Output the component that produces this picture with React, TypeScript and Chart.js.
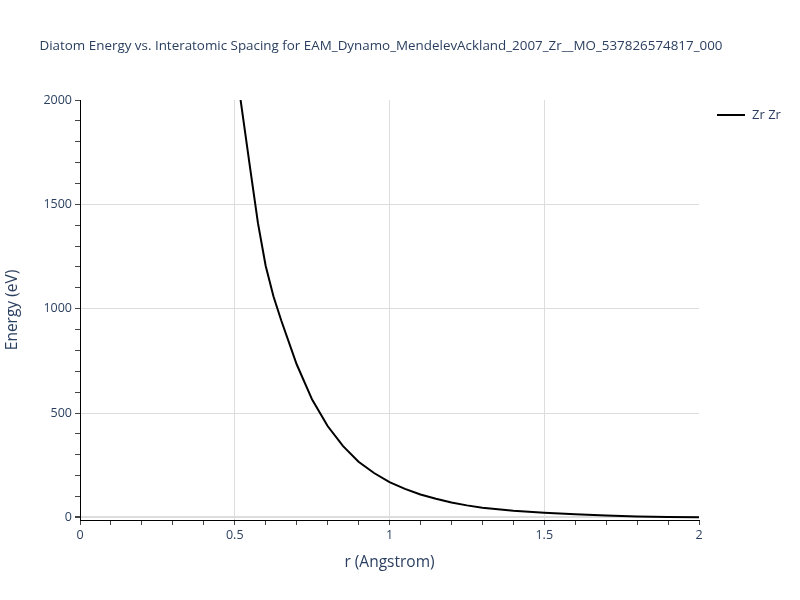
import React, { useEffect, useRef } from "react";
import { Chart, registerables } from "chart.js";

Chart.register(...registerables);

const TITLE = "Diatom Energy vs. Interatomic Spacing for EAM_Dynamo_MendelevAckland_2007_Zr__MO_537826574817_000";
const SERIES_NAME = "Zr Zr";
const X_TITLE = "r (Angstrom)";
const Y_TITLE = "Energy (eV)";

const rValues = [0.5, 0.55, 0.575, 0.6, 0.625, 0.65, 0.7, 0.75, 0.8, 0.85, 0.9, 0.95, 1.0, 1.05, 1.1, 1.15, 1.2, 1.25, 1.3, 1.4, 1.5, 1.6, 1.7, 1.8, 1.9, 2.0];
const energyValues = [2200, 1670, 1410, 1205, 1060, 945, 734, 565, 438, 342, 267, 213, 169, 137, 110, 90, 72, 58, 47, 32, 23, 15, 9, 5, 2.5, 1];

const xTickValues = [0, 0.1, 0.2, 0.3, 0.4, 0.5, 0.6, 0.7, 0.8, 0.9, 1, 1.1, 1.2, 1.3, 1.4, 1.5, 1.6, 1.7, 1.8, 1.9, 2];
const xLabelValues = [0, 0.5, 1, 1.5, 2];
const yTickValues = [0, 100, 200, 300, 400, 500, 600, 700, 800, 900, 1000, 1100, 1200, 1300, 1400, 1500, 1600, 1700, 1800, 1900, 2000];
const yLabelValues = [0, 500, 1000, 1500, 2000];

const TEXT = "#2a3f5f";
const GRID = "#dddddd";
const FONT = "'Open Sans', 'Liberation Sans', sans-serif";

const isLabel = (list: number[], v: number) => list.some((l) => Math.abs(l - v) < 1e-6);

const overlay = {
  id: "overlay",
  afterDraw(chart: any) {
    const ctx = chart.ctx;
    ctx.save();
    ctx.fillStyle = TEXT;
    ctx.font = `13.4px ${FONT}`;
    ctx.textBaseline = "middle";
    ctx.textAlign = "center";
    ctx.fillText(TITLE, 381, 46);
    // legend
    ctx.strokeStyle = "#000";
    ctx.lineWidth = 2;
    ctx.beginPath();
    ctx.moveTo(717, 115);
    ctx.lineTo(745, 115);
    ctx.stroke();
    ctx.font = `13px ${FONT}`;
    ctx.textAlign = "left";
    ctx.fillText(SERIES_NAME, 752, 115);
    ctx.restore();
  },
};

export default function App() {
  const ref = useRef<HTMLCanvasElement | null>(null);
  useEffect(() => {
    if (!ref.current) return;
    const chart = new Chart(ref.current, {
      type: "line",
      data: {
        datasets: [
          {
            label: SERIES_NAME,
            data: rValues.map((r, i) => ({ x: r, y: energyValues[i] })),
            borderColor: "#000",
            borderWidth: 2,
            pointRadius: 0,
            tension: 0,
            fill: false,
          },
        ],
      },
      options: {
        animation: false,
        responsive: false,
        maintainAspectRatio: false,
        layout: { padding: { left: 0, top: 100, right: 101, bottom: 0 } },
        plugins: { legend: { display: false }, title: { display: false }, tooltip: { enabled: false } },
        scales: {
          x: {
            type: "linear",
            min: 0,
            max: 2,
            afterBuildTicks: (s: any) => {
              s.ticks = xTickValues.map((v) => ({ value: v }));
            },
            afterFit: (s: any) => {
              s.height = 80;
            },
            ticks: {
              autoSkip: false,
              maxRotation: 0,
              color: TEXT,
              font: { family: FONT, size: 12.5 },
              padding: 3,
              callback: (v: any) => (isLabel(xLabelValues, Number(v)) ? String(Math.round(Number(v) * 10) / 10) : ""),
            },
            grid: {
              color: (c: any) => (c.tick && isLabel([0.5, 1, 1.5], c.tick.value) ? GRID : "rgba(0,0,0,0)"),
              tickColor: "#444",
              tickLength: 5,
              drawOnChartArea: true,
            },
            border: { color: "#000", width: 1 },
            title: {
              display: true,
              text: X_TITLE,
              color: TEXT,
              font: { family: FONT, size: 15.5 },
              padding: { top: 0, bottom: 28 },
            },
          },
          y: {
            type: "linear",
            min: -12,
            max: 2000,
            afterBuildTicks: (s: any) => {
              s.ticks = yTickValues.map((v) => ({ value: v }));
            },
            afterFit: (s: any) => {
              s.width = 80;
            },
            ticks: {
              autoSkip: false,
              color: TEXT,
              font: { family: FONT, size: 12.5 },
              padding: 3,
              callback: (v: any) => (isLabel(yLabelValues, Number(v)) ? String(v) : ""),
            },
            grid: {
              color: (c: any) => (c.tick && isLabel(yLabelValues, c.tick.value) && c.tick.value !== 2000 ? GRID : "rgba(0,0,0,0)"),
              lineWidth: (c: any) => (c.tick && c.tick.value === 0 ? 2 : 1),
              tickColor: "#444",
              tickLength: 5,
            },
            border: { color: "#000", width: 1 },
            title: {
              display: true,
              text: Y_TITLE,
              color: TEXT,
              font: { family: FONT, size: 15.5 },
              padding: { top: 3, bottom: 0 },
            },
          },
        },
      },
      plugins: [overlay],
    });
    return () => chart.destroy();
  }, []);
  return (
    <div style={{ position: "fixed", left: 0, top: 0, width: 800, height: 600, background: "#fff" }}>
      <canvas ref={ref} width={800} height={600} style={{ width: 800, height: 600 }} />
    </div>
  );
}
